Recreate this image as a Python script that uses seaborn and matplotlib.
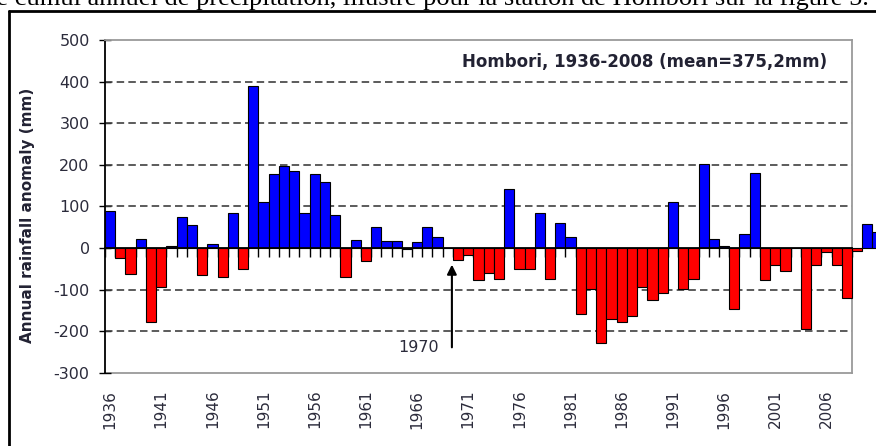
import numpy as np
import pandas as pd
import matplotlib
matplotlib.use("Agg")
import matplotlib.pyplot as plt
import seaborn as sns
from matplotlib.lines import Line2D

# annual rainfall anomaly, Hombori (mm)
years = list(range(1936, 2009))
anomaly = [90, -23, -61, 23, -177, -93, 5, 75, 55, -65, 11, -69, 85, -51,
           389, 111, 177, 197, 186, 85, 177, 158, 79, -69, 19, -31, 51, 18, 18, -3,
           15, 51, 27, 0, -29, -17, -77, -59, -73, 143, -51, -51, 85, -73, 61, 27,
           -159, -97, -228, -170, -177, -162, -93, -125, -107, 111, -99, -73, 203, 23,
           5, -147, 34, 181, -77, -41, -55, 0, -195, -41, -9, -41, -119]
# bars that spill out past the plot area on the right in the original
extra_years = [2009, 2010, 2011]
extra_anomaly = [-7, 57, 39]

y_ticks = [-300, -200, -100, 0, 100, 200, 300, 400, 500]
label_years = list(range(1936, 2009, 5))
title_txt = "Hombori, 1936-2008 (mean=375,2mm)"
ylabel_txt = "Annual rainfall anomaly (mm)"
marker_year = 1970
doc_line = "le cumul annuel de précipitation, illustré pour la station de Hombori sur la figure 5."

df = pd.DataFrame({"year": years + extra_years, "anomaly": anomaly + extra_anomaly})
df["sign"] = np.where(df["anomaly"] >= 0, "pos", "neg")

sns.set_theme(style="white")
plt.rcParams["font.family"] = ["DejaVu Sans"]
txt_col = "#2b2b3b"

W, H = 876, 446
fig = plt.figure(figsize=(W / 100, H / 100), dpi=100)
ax = fig.add_axes([105 / W, 1 - 373 / H, (852 - 105) / W, (373 - 40) / H])

sns.barplot(data=df, x="year", y="anomaly", hue="sign",
            palette={"pos": "#0000ff", "neg": "#ff0000"}, saturation=1,
            dodge=False, width=1.0, edgecolor="black", linewidth=0.8,
            legend=False, order=years + extra_years, ax=ax)
for p in ax.patches:
    p.set_clip_on(False)
    p.set_zorder(3)

ax.set_xlim(-0.5, len(years) - 0.5)
ax.set_ylim(-300, 500)
ax.set_xlabel("")
ax.set_ylabel("")

# dashed gridlines, none on the border/axis levels
for v in y_ticks:
    if v in (-300, 0, 500):
        continue
    ax.axhline(v, color="#404040", lw=1.2, ls=(0, (4.5, 2.5)), zorder=1)

# spines: black value axis, x axis crossing at zero, grey plot border
for s in ("top", "right"):
    ax.spines[s].set_color("#9a9a9a")
    ax.spines[s].set_linewidth(1.3)
ax.spines["left"].set_color("black")
ax.spines["left"].set_linewidth(1.3)
ax.spines["bottom"].set_position(("data", 0))
ax.spines["bottom"].set_color("black")
ax.spines["bottom"].set_linewidth(1.3)
ax.spines["bottom"].set_zorder(4)

ax.set_yticks(y_ticks)
ax.set_yticklabels([str(v) for v in y_ticks], fontsize=11.5, color=txt_col)
ax.tick_params(axis="y", direction="inout", length=8, width=1, color="black",
               pad=7, left=True)

# tick marks at category boundaries on the zero line, no labels there
ax.set_xticks(np.arange(-0.5, len(years), 1.0))
ax.set_xticklabels([])
ax.tick_params(axis="x", direction="out", length=6.5, width=1, color="black",
               bottom=True)

# year labels along the bottom of the plot area
sec = ax.secondary_xaxis("bottom")
sec.set_xticks([years.index(y) for y in label_years])
sec.set_xticklabels([str(y) for y in label_years], rotation=90,
                    fontsize=11, color=txt_col)
sec.tick_params(length=0, pad=12)
sec.spines["bottom"].set_color("#9a9a9a")
sec.spines["bottom"].set_linewidth(1.3)

ax.text(0.967, 0.935, title_txt, transform=ax.transAxes, ha="right",
        va="center", fontsize=12, fontweight="bold", color="#222233")

# 1970 arrow
ix = years.index(marker_year) - 0.6
ax.annotate("", xy=(ix, -33), xytext=(ix, -245),
            arrowprops=dict(arrowstyle="-|>", color="black", lw=1.5,
                            mutation_scale=14), zorder=5)
ax.text(ix - 3.3, -238, str(marker_year), ha="center", va="center",
        fontsize=11.5, color=txt_col)

fig.text(28 / W, 1 - 215 / H, ylabel_txt, rotation=90, ha="center",
         va="center", fontsize=11, fontweight="bold", color="#222233")

# document frame and cut-off sentence above it
fig.add_artist(Line2D([9 / W, 9 / W], [0, 1 - 11 / H], color="black", lw=2,
                      transform=fig.transFigure))
fig.add_artist(Line2D([9 / W, 1], [1 - 11 / H, 1 - 11 / H], color="black",
                      lw=2, transform=fig.transFigure))
fig.text(869 / W, 1 - 5 / H, doc_line, ha="right", va="baseline",
         family=["Liberation Serif"], fontsize=19, color="black")

fig.savefig("out.png", dpi=100, facecolor="white")
